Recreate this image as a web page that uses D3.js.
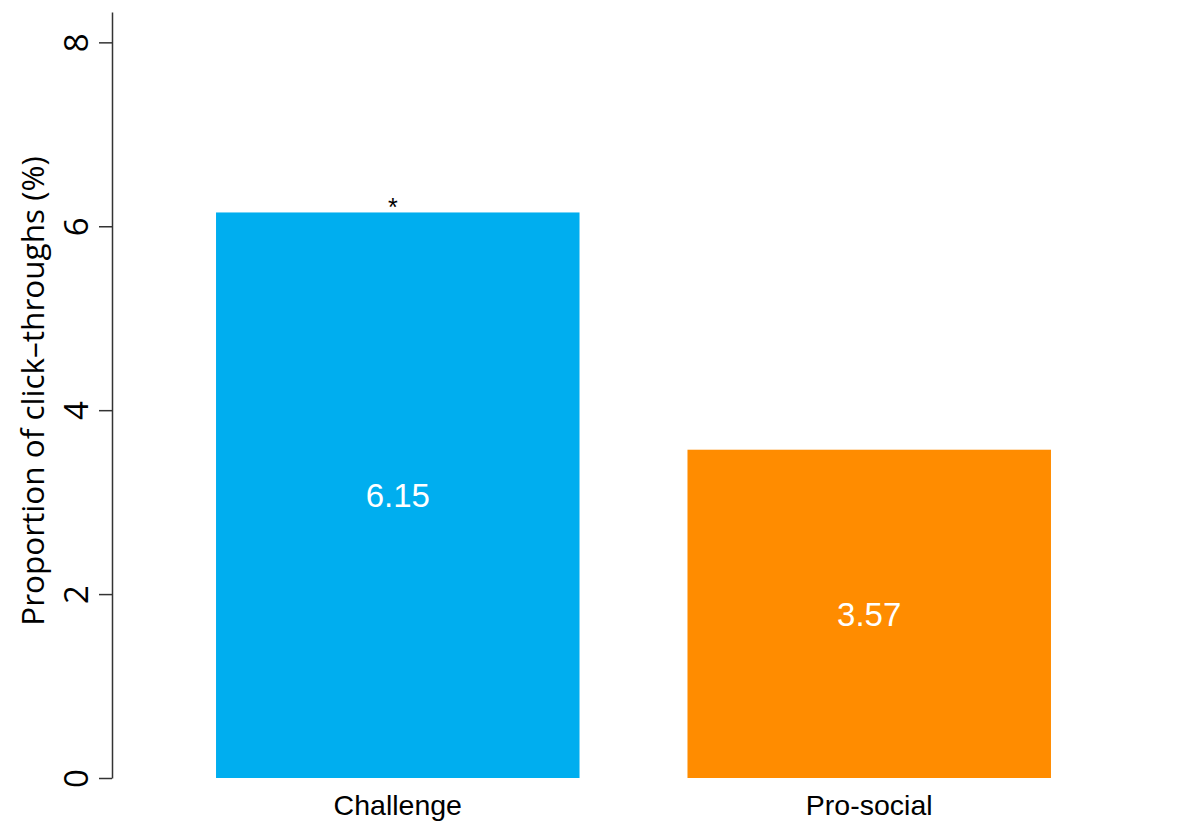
<!DOCTYPE html>
<html>
<head>
<meta charset="utf-8">
<script src="https://cdn.jsdelivr.net/npm/d3@7"></script>
<style>
  html, body { margin: 0; padding: 0; background: #fff; }
  svg { display: block; }
</style>
</head>
<body>
<svg id="chart" width="1179" height="827"></svg>
<script>
const categories = ["Challenge", "Pro-social"];
const values = [6.15, 3.57];
const valueLabels = ["6.15", "3.57"];
const significance = ["*", ""];
const barColors = ["#00AEEF", "#FF8C00"];
const yTicks = [0, 2, 4, 6, 8];
const yTitle = "Proportion of click\u2013throughs (%)";

const svg = d3.select("#chart");

const x = d3.scaleBand()
  .domain(categories)
  .range([162, 1105])
  .paddingInner(0.229)
  .paddingOuter(0.1146);

const y = d3.scaleLinear()
  .domain([0, 8.33])
  .range([778, 12]);

// bars
svg.selectAll("rect.bar")
  .data(categories)
  .enter().append("rect")
  .attr("class", "bar")
  .attr("x", d => x(d))
  .attr("width", x.bandwidth())
  .attr("y", (d, i) => y(values[i]))
  .attr("height", (d, i) => y(0) - y(values[i]))
  .attr("fill", (d, i) => barColors[i]);

// value labels
svg.selectAll("text.val")
  .data(categories)
  .enter().append("text")
  .attr("class", "val")
  .attr("x", d => x(d) + x.bandwidth() / 2)
  .attr("y", (d, i) => (y(values[i]) + y(0)) / 2)
  .attr("dy", "0.36em")
  .attr("text-anchor", "middle")
  .attr("fill", "#fff")
  .style("font-family", "'Liberation Sans', Arial, sans-serif")
  .style("font-size", "33px")
  .text((d, i) => valueLabels[i]);

// significance markers
svg.selectAll("text.sig")
  .data(categories)
  .enter().append("text")
  .attr("class", "sig")
  .attr("x", d => x(d) + x.bandwidth() / 2 - 5)
  .attr("y", (d, i) => y(values[i]) + 4)
  .attr("text-anchor", "middle")
  .attr("fill", "#000")
  .style("font-family", "'Liberation Sans', Arial, sans-serif")
  .style("font-size", "25px")
  .text((d, i) => significance[i]);

// category labels
svg.selectAll("text.cat")
  .data(categories)
  .enter().append("text")
  .attr("class", "cat")
  .attr("x", d => x(d) + x.bandwidth() / 2)
  .attr("y", 815)
  .attr("text-anchor", "middle")
  .attr("fill", "#000")
  .style("font-family", "'Liberation Sans', Arial, sans-serif")
  .style("font-size", "28.5px")
  .text(d => d);

// y axis
const yAxis = d3.axisLeft(y)
  .tickValues(yTicks)
  .tickFormat(d3.format("d"))
  .tickSize(13)
  .tickSizeOuter(0)
  .tickPadding(0);

const gy = svg.append("g")
  .attr("transform", "translate(112,0)")
  .call(yAxis);

gy.select(".domain").attr("stroke", "#333").attr("stroke-width", 1.5);
gy.selectAll(".tick line").attr("stroke", "#333").attr("stroke-width", 1.5);
gy.selectAll(".tick text")
  .attr("x", null).attr("dy", null)
  .attr("transform", "translate(-36,0) rotate(-90)")
  .attr("text-anchor", "middle")
  .attr("dy", "0.36em")
  .attr("fill", "#000")
  .style("font-family", "'Open Sans', sans-serif")
  .style("font-size", "33px");

// y axis title
svg.append("text")
  .attr("transform", "translate(33," + 391 + ") rotate(-90)")
  .attr("text-anchor", "middle")
  .attr("dy", "0.36em")
  .attr("fill", "#000")
  .style("font-family", "'Open Sans', sans-serif")
  .style("font-size", "31.5px")
  .text(yTitle);
</script>
</body>
</html>
